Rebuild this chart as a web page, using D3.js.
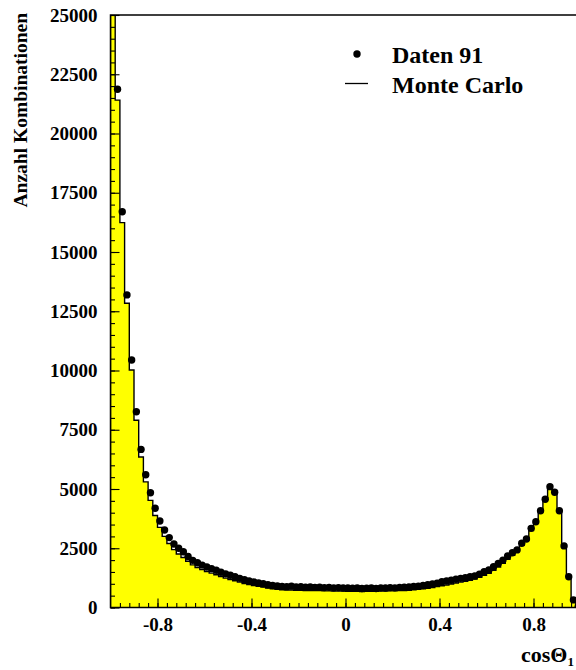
<!DOCTYPE html>
<html>
<head>
<meta charset="utf-8">
<script src="https://cdn.jsdelivr.net/npm/d3@7"></script>
<style>
  html, body { margin: 0; padding: 0; background: #fff; }
  svg { display: block; }
  text { font-family: "Liberation Serif", "Times New Roman", serif; font-weight: bold; fill: #000; }
</style>
</head>
<body>
<svg id="chart" width="576" height="670"></svg>
<script>
// cos(theta_1) histogram, 100 bins of width 0.02 between -1 and 1
const binLow = -1;
const binWidth = 0.02;

// measured data (points)
const daten91 = [
  30500, 21870, 16700, 13190, 10440, 8260, 6670, 5600, 4840, 4190,
  3650, 3270, 2950, 2680, 2500, 2350, 2150, 1990, 1890, 1790,
  1710, 1640, 1570, 1490, 1420, 1360, 1300, 1230, 1170, 1120,
  1080, 1040, 1000, 960, 930, 910, 890, 880, 900, 870,
  880, 860, 870, 850, 860, 840, 850, 830, 840, 820,
  830, 810, 820, 800, 810, 820, 800, 830, 820, 840,
  830, 850, 860, 870, 890, 900, 930, 960, 990, 1030,
  1090, 1120, 1150, 1190, 1230, 1260, 1300, 1330, 1410, 1510,
  1580, 1720, 1860, 2000, 2170, 2310, 2430, 2710, 2890, 3340,
  3620, 4080, 4570, 5100, 4860, 4080, 2600, 1300, 320, 40
];

// simulation (filled histogram)
const monteCarlo = [
  29800, 21410, 16240, 12840, 10020, 7900, 6350, 5300, 4520, 3880,
  3380, 3000, 2700, 2440, 2260, 2110, 1950, 1800, 1690, 1600,
  1520, 1450, 1380, 1310, 1240, 1180, 1130, 1070, 1010, 970,
  930, 890, 860, 820, 790, 770, 750, 740, 740, 730,
  730, 720, 720, 710, 710, 700, 700, 690, 690, 690,
  680, 680, 680, 670, 680, 680, 680, 690, 690, 700,
  700, 710, 720, 730, 750, 770, 790, 810, 840, 880,
  920, 950, 990, 1030, 1070, 1110, 1150, 1200, 1270, 1360,
  1440, 1570, 1710, 1860, 2030, 2200, 2390, 2620, 2850, 3250,
  3580, 4040, 4550, 5020, 4880, 4110, 2600, 1310, 360, 50
];

const xMajorTicks = [-0.8, -0.4, 0, 0.4, 0.8];
const xTickLabels = ["-0.8", "-0.4", "0", "0.4", "0.8"];
const yMajorTicks = [0, 2500, 5000, 7500, 10000, 12500, 15000, 17500, 20000, 22500, 25000];
const legendLabels = ["Daten 91", "Monte Carlo"];

const svg = d3.select("#chart");

const x = d3.scaleLinear().domain([-1, 1]).range([110.5, 580.5]);
const y = d3.scaleLinear().domain([0, 25000]).range([607.5, 15]);

svg.append("defs").append("clipPath").attr("id", "frame")
  .append("rect")
  .attr("x", x(-1)).attr("y", y(25000))
  .attr("width", x(1) - x(-1)).attr("height", y(0) - y(25000));

const plot = svg.append("g").attr("clip-path", "url(#frame)");

// step points: each bin's lower edge plus the closing edge at +1
const steps = monteCarlo.map((v, i) => ({ e: binLow + i * binWidth, v }));
steps.push({ e: binLow + monteCarlo.length * binWidth, v: monteCarlo[monteCarlo.length - 1] });

plot.append("path")
  .datum(steps)
  .attr("fill", "#ffff00")
  .attr("stroke", "none")
  .attr("d", d3.area().curve(d3.curveStepAfter)
    .x(d => x(d.e)).y0(y(0)).y1(d => y(d.v)));

const outline = [{ e: steps[0].e, v: 0 }, ...steps, { e: steps[steps.length - 1].e, v: 0 }];
plot.append("path")
  .datum(outline)
  .attr("fill", "none")
  .attr("stroke", "#000")
  .attr("stroke-width", 1.4)
  .attr("d", d3.line().curve(d3.curveStepAfter).x(d => x(d.e)).y(d => y(d.v)));

// data points at bin centres
plot.append("g").selectAll("circle")
  .data(daten91)
  .join("circle")
  .attr("cx", (d, i) => x(binLow + (i + 0.5) * binWidth))
  .attr("cy", d => y(d))
  .attr("r", 3.7)
  .attr("fill", "#000");

// axes with inward ticks
const xMinor = d3.range(-24, 25).map(k => k * 0.04).filter(v => Math.abs(v) < 0.999);
svg.append("g")
  .attr("transform", `translate(0,${y(0)})`)
  .call(d3.axisBottom(x).tickValues(xMinor).tickSize(-4.5).tickFormat(""))
  .call(g => g.select(".domain").remove())
  .selectAll("line").attr("stroke-width", 1.1);

const gx = svg.append("g")
  .attr("transform", `translate(0,${y(0)})`)
  .call(d3.axisBottom(x).tickValues(xMajorTicks).tickSize(-9).tickPadding(10)
    .tickFormat((d, i) => xTickLabels[i]));
gx.select(".domain").remove();
gx.selectAll("line").attr("stroke-width", 1.1);
gx.selectAll("text").attr("font-size", 19).attr("font-family", null).attr("dy", "0.71em");

const yMinor = d3.range(0, 25001, 500);
svg.append("g")
  .attr("transform", `translate(${x(-1)},0)`)
  .call(d3.axisLeft(y).tickValues(yMinor).tickSize(-4.5).tickFormat(""))
  .call(g => g.select(".domain").remove())
  .selectAll("line").attr("stroke-width", 1.1);

const gy = svg.append("g")
  .attr("transform", `translate(${x(-1)},0)`)
  .call(d3.axisLeft(y).tickValues(yMajorTicks).tickSize(-9).tickPadding(13).tickFormat(d3.format("d")));
gy.select(".domain").remove();
gy.selectAll("line").attr("stroke-width", 1.1);
gy.selectAll("text").attr("font-size", 19).attr("font-family", null);

// frame
svg.append("rect")
  .attr("x", x(-1)).attr("y", y(25000))
  .attr("width", x(1) - x(-1)).attr("height", y(0) - y(25000))
  .attr("fill", "none").attr("stroke", "#000").attr("stroke-width", 1.5);

// axis titles
const xt = svg.append("text")
  .attr("x", 574).attr("y", 662)
  .attr("text-anchor", "end")
  .attr("font-size", 22);
xt.append("tspan").text("cosΘ");
xt.append("tspan").attr("font-size", 13).attr("dy", 4).text("1");

svg.append("text")
  .attr("transform", "translate(27,13) rotate(-90)")
  .attr("text-anchor", "end")
  .attr("font-size", 19.5)
  .text("Anzahl Kombinationen");

// legend
const lg = svg.append("g");
lg.append("circle").attr("cx", 357).attr("cy", 54).attr("r", 3.7).attr("fill", "#000");
lg.append("line").attr("x1", 345).attr("x2", 368).attr("y1", 83.5).attr("y2", 83.5)
  .attr("stroke", "#000").attr("stroke-width", 1.3);
lg.selectAll("text.lab").data(legendLabels).join("text")
  .attr("class", "lab")
  .attr("x", 392).attr("y", (d, i) => 63 + i * 29.5)
  .attr("font-size", 24)
  .text(d => d);
</script>
</body>
</html>
